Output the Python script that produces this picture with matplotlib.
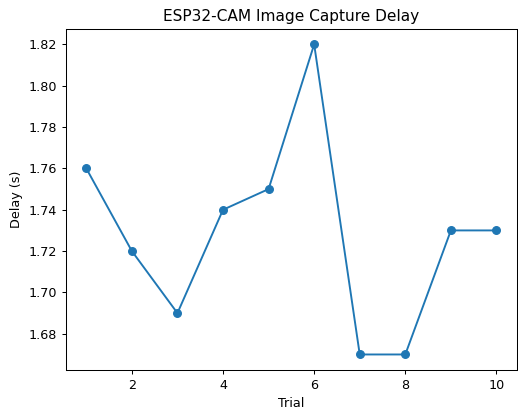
import matplotlib
matplotlib.use("Agg")
import matplotlib.pyplot as plt

# capture delay per trial
trials = [1, 2, 3, 4, 5, 6, 7, 8, 9, 10]
delays = [1.76, 1.72, 1.69, 1.74, 1.75, 1.82, 1.67, 1.67, 1.73, 1.73]

fig, ax = plt.subplots(figsize=(518 / 92, 412 / 92), dpi=92)
ax.plot(trials, delays, marker="o")
ax.set_title("ESP32-CAM Image Capture Delay")
ax.set_xlabel("Trial")
ax.set_ylabel("Delay (s)")
fig.subplots_adjust(left=0.127, right=0.998, top=0.930, bottom=0.102)
fig.savefig("out.png")
